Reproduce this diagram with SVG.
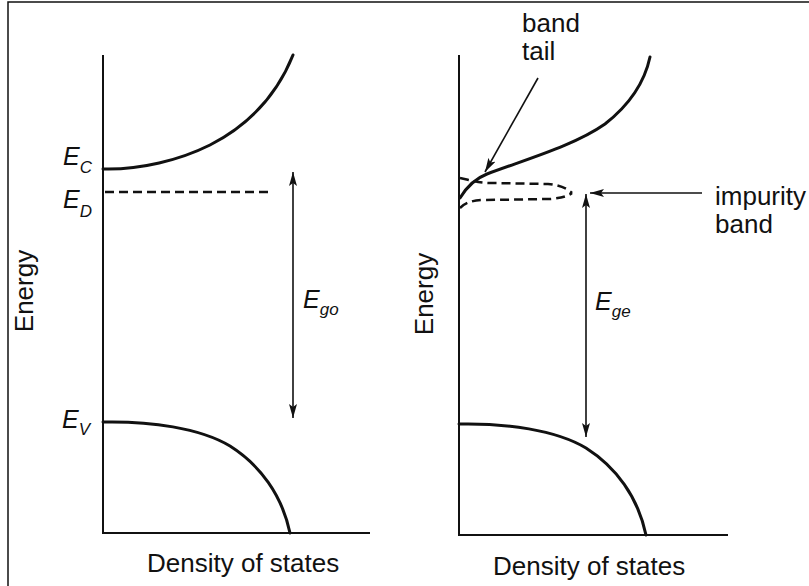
<svg xmlns="http://www.w3.org/2000/svg" width="809" height="586" viewBox="0 0 809 586">
<style>
text{font-family:"Liberation Sans",Arial,sans-serif;fill:#111;}
.lbl{font-size:26px;}
.sym{font-size:25px;font-style:italic;}
.sub{font-size:17px;font-style:italic;}
.axis{fill:none;stroke:#111;stroke-width:2;}
.curve{fill:none;stroke:#111;stroke-width:3;stroke-linecap:round;}
.dash{fill:none;stroke:#111;stroke-width:2.5;stroke-dasharray:9,5;}
.arr{fill:none;stroke:#111;stroke-width:1.6;}
</style>
<defs>
<marker id="ah" viewBox="0 0 14 8" refX="14" refY="4" markerWidth="14" markerHeight="8" markerUnits="userSpaceOnUse" orient="auto-start-reverse">
<path d="M0,0 L14,4 L0,8 L3,4 Z" fill="#111"/>
</marker>
</defs>
<rect width="809" height="586" fill="#fff"/>
<path d="M8,586 L8,2 L809,2" fill="none" stroke="#111" stroke-width="1.5"/>

<g id="left-panel">
<path class="axis" d="M103,55 L103,533 L370,533"/>
<path class="curve" d="M103,169 C140,170 180,160 210,145 C245,127 275,100 293,55"/>
<path class="dash" d="M105,192 L273,192"/>
<path class="curve" d="M103,422 C150,421 200,428 230,446 C260,465 282,495 290,533"/>
<text class="sym" x="63" y="165">E<tspan class="sub" dy="8">C</tspan></text>
<text class="sym" x="63" y="208">E<tspan class="sub" dy="9">D</tspan></text>
<text class="sym" x="62" y="428">E<tspan class="sub" dy="7">V</tspan></text>
<text class="lbl" transform="translate(33,291) rotate(-90)" text-anchor="middle">Energy</text>
<text class="lbl" x="147" y="572">Density of states</text>
<text class="sym" x="303" y="308">E<tspan class="sub" dy="7">go</tspan></text>
</g>

<g id="right-panel">
<path class="axis" d="M459,55 L459,535 L728,535"/>
<path class="curve" d="M460,198 C466,188 474,179 487,174 C530,158 575,145 605,124 C628,106 644,85 650,57"/>
<path class="dash" d="M460,178 C470,180 478,183 490,183 L548,184 C560,185 568,189 572,193"/>
<path class="dash" d="M460,208 C465,203 472,200 485,200 L550,199 C562,198 568,196 572,193"/>
<path class="curve" d="M459,424 C506,423 556,430 586,448 C616,467 638,497 646,535"/>
<text class="lbl" transform="translate(433,294) rotate(-90)" text-anchor="middle">Energy</text>
<text class="lbl" x="493" y="575">Density of states</text>
<text class="sym" x="595" y="310">E<tspan class="sub" dy="7">ge</tspan></text>
<text class="lbl" x="522" y="32">band</text>
<text class="lbl" x="522" y="60">tail</text>
<text class="lbl" x="715" y="205">impurity</text>
<text class="lbl" x="715" y="233">band</text>
</g>

<g id="connectors">
<path class="arr" d="M293,172 L293,418" marker-start="url(#ah)" marker-end="url(#ah)"/>
<path class="arr" d="M586,194 L586,437" marker-start="url(#ah)" marker-end="url(#ah)"/>
<path class="arr" d="M538,78 L485,172" marker-end="url(#ah)"/>
<path class="arr" d="M702,193 L590,193" marker-end="url(#ah)"/>
</g>
</svg>
